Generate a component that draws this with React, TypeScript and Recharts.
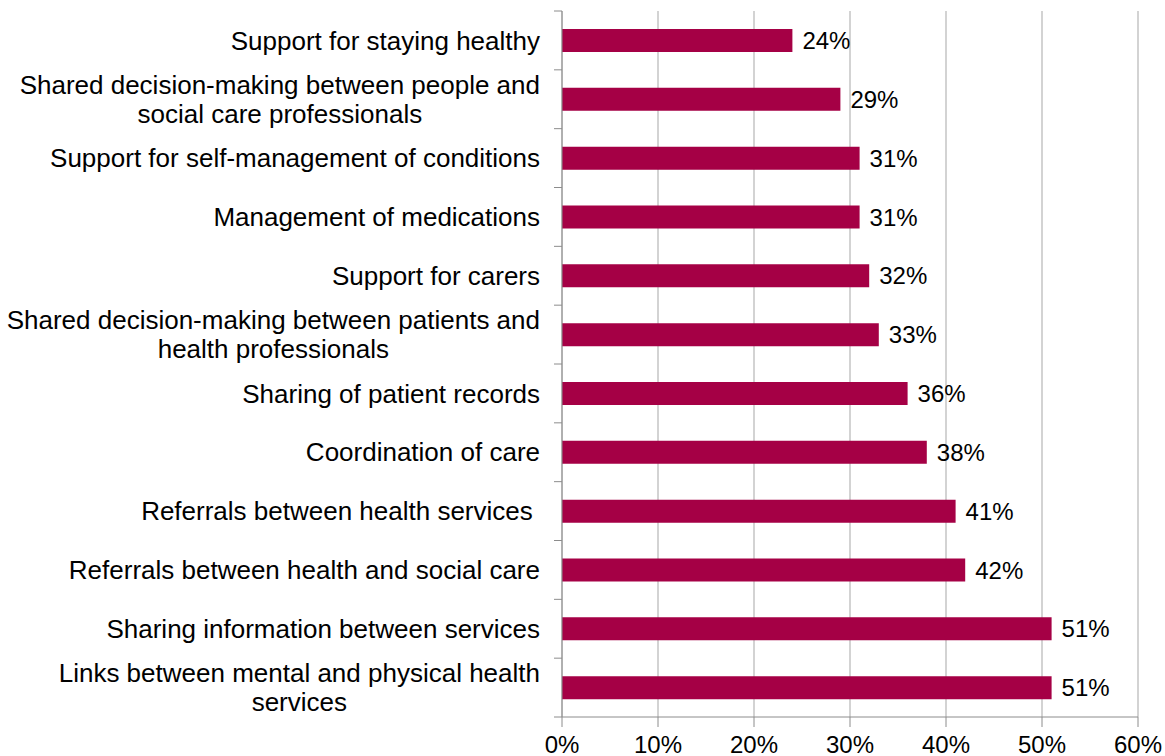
import { Bar, BarChart, CartesianGrid, LabelList, XAxis, YAxis } from "recharts";

const categories = [
  "Support for staying healthy",
  "Shared decision-making between people and\nsocial care professionals",
  "Support for self-management of conditions",
  "Management of medications",
  "Support for carers",
  "Shared decision-making between patients and\nhealth professionals",
  "Sharing of patient records",
  "Coordination of care",
  "Referrals between health services ",
  "Referrals between health and social care",
  "Sharing information between services",
  "Links between mental and physical health\nservices",
];

const shares = [24, 29, 31, 31, 32, 33, 36, 38, 41, 42, 51, 51];

const xTicks = [0, 10, 20, 30, 40, 50, 60];

const data = categories.map((name, i) => ({ name, value: shares[i] }));

const W = 1165;
const H = 756;
const TOP = 11;
const X_AXIS_H = 39;
const Y_AXIS_W = 562;
const BAND = (H - TOP - X_AXIS_H) / categories.length;
const FONT = "Liberation Sans, Arial, sans-serif";
const LABEL_SIZE = 26;

let ctx: CanvasRenderingContext2D | null = null;
function textWidth(s: string) {
  if (!ctx) ctx = document.createElement("canvas").getContext("2d");
  if (!ctx) return s.length * 12;
  ctx.font = `${LABEL_SIZE}px ${FONT}`;
  return ctx.measureText(s).width;
}

function CategoryTick(props: any) {
  const { y, payload, index } = props;
  const axisX = Y_AXIS_W;
  const right = axisX - 22;
  const lines = String(payload.value).split("\n");
  const lineH = 29;
  const maxW = Math.max(...lines.map(textWidth));
  const multi = lines.length > 1;
  const last = index === categories.length - 1;
  return (
    <g>
      <line x1={axisX - 8} x2={axisX} y1={y - BAND / 2} y2={y - BAND / 2} stroke="#8c8c8c" />
      {last && (
        <line x1={axisX - 8} x2={axisX} y1={y + BAND / 2} y2={y + BAND / 2} stroke="#8c8c8c" />
      )}
      {lines.map((line, i) => (
        <text
          key={i}
          x={multi ? right - maxW / 2 : right}
          y={y + (i - (lines.length - 1) / 2) * lineH}
          dy="0.35em"
          textAnchor={multi ? "middle" : "end"}
          fontSize={LABEL_SIZE}
          fontFamily={FONT}
          fill="#000"
          style={{ whiteSpace: "pre" }}
        >
          {line}
        </text>
      ))}
    </g>
  );
}

export default function App() {
  return (
    <div style={{ position: "absolute", left: 0, top: 0, background: "#fff" }}>
      <BarChart
        width={W}
        height={H}
        data={data}
        layout="vertical"
        margin={{ top: TOP, right: 27, bottom: 0, left: 0 }}
        barCategoryGap="0%"
      >
        <CartesianGrid horizontal={false} stroke="#c4c4c4" strokeWidth={1.5} />
        <XAxis
          type="number"
          domain={[0, 60]}
          ticks={xTicks}
          interval={0}
          height={X_AXIS_H}
          tickFormatter={(v) => `${v}%`}
          tick={{ fontSize: 24, fill: "#000", fontFamily: FONT }}
          tickSize={10}
          tickMargin={9}
          stroke="#8c8c8c"
        />
        <YAxis
          type="category"
          dataKey="name"
          width={Y_AXIS_W}
          interval={0}
          tickLine={false}
          tick={<CategoryTick />}
          stroke="#8c8c8c"
        />
        <Bar dataKey="value" fill="#a50045" barSize={23} isAnimationActive={false}>
          <LabelList
            dataKey="value"
            position="right"
            offset={10}
            formatter={(v: any) => `${v}%`}
            style={{ fontSize: 24, fill: "#000", fontFamily: FONT }}
          />
        </Bar>
      </BarChart>
    </div>
  );
}
